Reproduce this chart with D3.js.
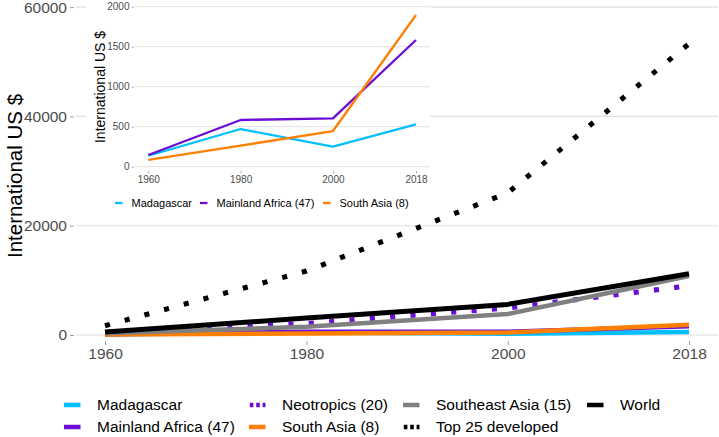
<!DOCTYPE html>
<html>
<head>
<meta charset="utf-8">
<script src="https://cdn.jsdelivr.net/npm/d3@7"></script>
<style>
  html, body { margin: 0; padding: 0; background: #fff; }
  svg { display: block; font-family: "Liberation Sans", Arial, sans-serif; }
</style>
</head>
<body>
<svg id="chart" width="719" height="437"></svg>
<script>
// ---- data ----
const years = [1960, 1980, 2000, 2018];
const seriesNames = ["Madagascar", "Mainland Africa (47)", "Neotropics (20)", "South Asia (8)", "Southeast Asia (15)", "Top 25 developed", "World"];
const madagascar     = [137, 471, 250, 530];
const mainlandAfrica = [146, 584, 605, 1584];
const neotropics     = [450, 2100, 4950, 9000];
const southAsia      = [84, 263, 446, 1896];
const southeastAsia  = [330, 1500, 3840, 10800];
const top25          = [1700, 11700, 26000, 53300];
const world          = [550, 3100, 5600, 11200];
const mainYTicks = [0, 20000, 40000, 60000];
const insetYTicks = [0, 500, 1000, 1500, 2000];
const xTicks = [1960, 1980, 2000, 2018];
const insetNames = ["Madagascar", "Mainland Africa (47)", "South Asia (8)"];

const colors = {
  "Madagascar": "#00BFFF",
  "Mainland Africa (47)": "#6A0DD6",
  "Neotropics (20)": "#6A0DD6",
  "South Asia (8)": "#FF7F00",
  "Southeast Asia (15)": "#808080",
  "Top 25 developed": "#000000",
  "World": "#000000"
};
const dotted = { "Neotropics (20)": true, "Top 25 developed": true };
const valuesByName = {
  "Madagascar": madagascar,
  "Mainland Africa (47)": mainlandAfrica,
  "Neotropics (20)": neotropics,
  "South Asia (8)": southAsia,
  "Southeast Asia (15)": southeastAsia,
  "Top 25 developed": top25,
  "World": world
};

const svg = d3.select("#chart");
const gridColor = "#DEDEDE";
const tickText = "#4D4D4D";

// ---- main plot ----
const x = d3.scaleLinear().domain([1960, 2018]).range([105, 689]);
const y = d3.scaleLinear().domain([0, 60000]).range([335, 7.1]);
const panelL = 76, panelR = 718, panelB = 341;

const main = svg.append("g");
main.selectAll("line.grid").data(mainYTicks).enter().append("line")
  .attr("x1", panelL).attr("x2", panelR)
  .attr("y1", d => y(d)).attr("y2", d => y(d))
  .attr("stroke", gridColor).attr("stroke-width", 1.1);

const yAxis = d3.axisLeft(y).tickValues(mainYTicks).tickSize(4).tickPadding(3).tickFormat(d3.format("d"));
const gy = main.append("g").attr("transform", `translate(${panelL - 2},0)`).call(yAxis);
gy.select(".domain").remove();
gy.selectAll(".tick line").attr("stroke", "#777").attr("stroke-width", 0.7);
gy.selectAll(".tick text").attr("fill", tickText).style("font-size", "15.5px").style("font-family", "Liberation Sans, Arial, sans-serif");

const xAxis = d3.axisBottom(x).tickValues(xTicks).tickSize(4).tickPadding(3).tickFormat(d3.format("d"));
const gx = main.append("g").attr("transform", `translate(0,${panelB})`).call(xAxis);
gx.select(".domain").remove();
gx.selectAll(".tick line").attr("stroke", "#777").attr("stroke-width", 0.7);
gx.selectAll(".tick text").attr("fill", tickText).style("font-size", "15.5px").style("font-family", "Liberation Sans, Arial, sans-serif");

main.append("text")
  .attr("transform", "translate(22,176) rotate(-90)")
  .attr("text-anchor", "middle")
  .style("font-size", "20.5px")
  .attr("fill", "#000")
  .text("International US $");

const line = d3.line().x((d, i) => x(years[i])).y(d => y(d));
seriesNames.forEach(name => {
  const p = main.append("path")
    .attr("d", line(valuesByName[name]))
    .attr("fill", "none")
    .attr("stroke", colors[name])
    .attr("stroke-linejoin", "round");
  if (dotted[name]) {
    p.attr("stroke-width", 5.1).attr("stroke-dasharray", "5.1,15.3").attr("stroke-linecap", "butt");
  } else {
    p.attr("stroke-width", name === "World" ? 5 : 4.5).attr("stroke-linecap", "butt");
  }
});

const legCols = [64, 249, 403, 587];
const legRows = [405, 427];
seriesNames.forEach((name, i) => {
  const col = Math.floor(i / 2), row = i % 2;
  const lx = legCols[col], ly = legRows[row];
  const k = svg.append("line")
    .attr("x1", lx).attr("x2", lx + 16.5)
    .attr("y1", ly).attr("y2", ly)
    .attr("stroke", colors[name]).attr("stroke-width", 4.5);
  if (dotted[name]) k.attr("stroke-dasharray", "3.6,2.8").attr("x1", lx + 0.8);
  svg.append("text")
    .attr("x", lx + 33).attr("y", ly)
    .attr("dy", "0.35em")
    .style("font-size", "15.5px")
    .attr("fill", "#000")
    .text(name);
});

// ---- inset ----
const inset = svg.append("g");
inset.append("rect").attr("x", 86).attr("y", 0).attr("width", 344).attr("height", 221).attr("fill", "#fff");

const ix = d3.scaleLinear().domain([1960, 2018]).range([148.3, 416]);
const iy = d3.scaleLinear().domain([0, 2000]).range([166.7, 6.7]);
const ipL = 135, ipR = 429.5, ipB = 171;

inset.selectAll("line.igrid").data(insetYTicks).enter().append("line")
  .attr("x1", ipL).attr("x2", ipR)
  .attr("y1", d => iy(d)).attr("y2", d => iy(d))
  .attr("stroke", gridColor).attr("stroke-width", 0.9);

const iyAxis = d3.axisLeft(iy).tickValues(insetYTicks).tickSize(2.5).tickPadding(2).tickFormat(d3.format("d"));
const giy = inset.append("g").attr("transform", `translate(${ipL - 1},0)`).call(iyAxis);
giy.select(".domain").remove();
giy.selectAll(".tick line").attr("stroke", "#777").attr("stroke-width", 0.6);
giy.selectAll(".tick text").attr("fill", tickText).style("font-size", "10px").style("font-family", "Liberation Sans, Arial, sans-serif");

const ixAxis = d3.axisBottom(ix).tickValues(xTicks).tickSize(2.5).tickPadding(2).tickFormat(d3.format("d"));
const gix = inset.append("g").attr("transform", `translate(0,${ipB})`).call(ixAxis);
gix.select(".domain").remove();
gix.selectAll(".tick line").attr("stroke", "#777").attr("stroke-width", 0.6);
gix.selectAll(".tick text").attr("fill", tickText).style("font-size", "10px").style("font-family", "Liberation Sans, Arial, sans-serif");

inset.append("text")
  .attr("transform", "translate(104.5,87) rotate(-90)")
  .attr("text-anchor", "middle")
  .style("font-size", "14px")
  .attr("fill", "#000")
  .text("International US $");

const iline = d3.line().x((d, i) => ix(years[i])).y(d => iy(d));
insetNames.forEach(name => {
  inset.append("path")
    .attr("d", iline(valuesByName[name]))
    .attr("fill", "none")
    .attr("stroke", colors[name])
    .attr("stroke-width", 2.3)
    .attr("stroke-linejoin", "round");
});

const iLegX = [115, 200, 323];
insetNames.forEach((name, i) => {
  const lx = iLegX[i], ly = 203;
  inset.append("line").attr("x1", lx).attr("x2", lx + 7.5).attr("y1", ly).attr("y2", ly)
    .attr("stroke", colors[name]).attr("stroke-width", 2.3);
  inset.append("text").attr("x", lx + 16.5).attr("y", ly).attr("dy", "0.35em")
    .style("font-size", "11px").attr("fill", "#000").text(name);
});
</script>
</body>
</html>
